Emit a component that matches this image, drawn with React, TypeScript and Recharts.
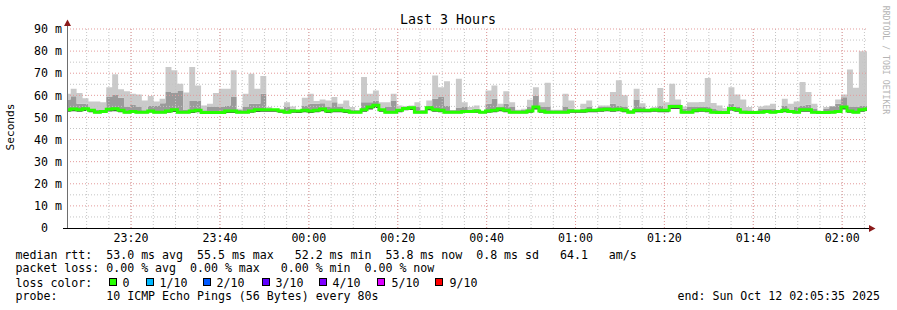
import React from "react";
import { ComposedChart, Area, Line, XAxis, YAxis, ReferenceLine } from "recharts";

/* ------------------------------------------------------------------ */
/*  Data (one value per 80 s step, graph window 23:05:35 – 02:05:35)   */
/* ------------------------------------------------------------------ */

const STEP_SECONDS = 80;
const FIRST_STEP_START = -30; // seconds relative to 23:05:35
const GRAPH_SECONDS = 10800;

// highest ping of each step (ms)
const maxRtt = [
  60.7, 63.0, 61.1, 58.7, 57.2, 57.2, 56.9, 63.7, 69.5, 62.7,
  61.8, 60.7, 60.4, 57.7, 59.7, 57.2, 58.4, 72.8, 71.3, 65.2,
  61.3, 72.8, 64.5, 55.4, 56.2, 61.0, 63.0, 63.0, 71.3, 53.9,
  60.7, 69.8, 63.0, 68.7, 54.7, 53.2, 53.9, 56.9, 54.9, 53.5,
  58.9, 60.7, 57.4, 58.1, 57.7, 59.2, 56.2, 57.7, 54.7, 53.2,
  68.3, 60.7, 62.2, 56.9, 56.9, 60.7, 55.4, 54.9, 55.4, 56.9,
  53.2, 57.7, 69.0, 63.7, 66.4, 53.2, 67.5, 56.9, 54.7, 55.4,
  52.9, 62.2, 64.5, 56.2, 61.8, 56.9, 53.5, 53.9, 58.0, 63.7,
  56.9, 65.7, 53.5, 53.5, 60.7, 57.7, 52.9, 56.2, 57.7, 52.9,
  55.4, 55.4, 61.5, 66.8, 60.0, 53.2, 63.0, 56.4, 53.5, 54.7,
  63.3, 56.9, 65.2, 58.1, 54.9, 56.9, 56.9, 57.0, 67.8, 56.5,
  55.4, 54.2, 63.7, 60.4, 58.1, 54.7, 52.4, 55.0, 55.4, 56.2,
  53.2, 58.4, 56.2, 57.2, 66.0, 61.5, 56.2, 52.4, 54.7, 55.0,
  58.1, 60.4, 71.7, 63.4, 79.9, 79.9,
];

// top of the mid-grey smoke (ms)
const upperRtt = [
  58.1, 59.6, 56.2, 56.2, 53.4, 53.4, 53.4, 59.2, 60.4, 58.9,
  54.7, 55.9, 54.7, 53.2, 55.4, 55.4, 56.4, 61.5, 61.1, 62.2,
  53.4, 57.7, 57.7, 53.2, 54.7, 54.7, 54.7, 55.4, 59.2, 53.5,
  54.7, 56.2, 56.2, 60.7, 53.5, 53.2, 53.5, 54.7, 53.9, 53.2,
  55.4, 56.2, 56.2, 56.4, 54.7, 56.9, 54.7, 53.9, 53.5, 53.2,
  56.9, 56.9, 57.5, 53.9, 54.7, 57.7, 53.5, 55.0, 55.0, 54.7,
  53.2, 55.4, 58.5, 59.2, 55.4, 53.2, 54.5, 54.7, 53.5, 53.9,
  52.9, 56.2, 58.5, 54.7, 56.2, 54.7, 53.2, 53.5, 54.7, 59.8,
  54.7, 54.7, 53.2, 53.2, 54.7, 53.9, 52.9, 53.9, 54.7, 52.9,
  54.7, 54.7, 56.2, 55.4, 54.7, 53.2, 58.1, 54.7, 53.2, 53.9,
  55.4, 53.9, 56.0, 56.0, 53.9, 54.7, 54.7, 55.0, 54.7, 54.0,
  53.2, 52.7, 56.2, 54.7, 53.2, 53.2, 52.4, 54.0, 54.0, 54.0,
  52.7, 55.4, 53.2, 54.7, 55.4, 55.7, 54.0, 52.4, 54.0, 55.1,
  56.2, 59.1, 54.7, 54.7, 55.4, 55.4,
];

// median rtt (ms)
const medianRtt = [
  53.5, 53.8, 53.5, 53.9, 53.2, 52.4, 52.7, 53.7, 53.9, 53.2,
  52.4, 52.7, 52.4, 52.4, 52.9, 52.4, 52.4, 52.9, 53.5, 52.4,
  52.4, 52.9, 53.2, 52.2, 52.2, 52.2, 52.2, 52.9, 52.9, 52.4,
  52.4, 52.9, 53.5, 53.5, 53.5, 53.5, 52.9, 52.4, 52.9, 52.9,
  53.2, 52.9, 53.2, 53.8, 52.9, 53.3, 53.3, 52.9, 52.4, 52.4,
  53.5, 54.7, 55.5, 53.5, 52.4, 52.4, 53.2, 54.1, 54.4, 52.4,
  52.4, 54.4, 53.5, 53.2, 52.4, 52.4, 52.4, 52.7, 52.7, 52.9,
  52.4, 52.9, 53.2, 53.8, 53.2, 52.4, 52.4, 52.4, 52.9, 54.7,
  52.9, 52.4, 52.4, 52.4, 52.4, 52.9, 52.9, 52.9, 53.2, 53.2,
  53.5, 53.7, 53.5, 53.7, 53.2, 52.4, 53.2, 53.2, 53.2, 53.5,
  53.2, 53.2, 54.9, 54.9, 52.4, 52.4, 53.2, 53.5, 53.2, 52.4,
  52.2, 52.2, 54.0, 53.5, 52.4, 52.2, 52.2, 52.4, 52.7, 52.4,
  52.7, 53.2, 52.7, 52.4, 53.5, 53.5, 52.4, 52.2, 52.2, 52.4,
  52.7, 54.7, 52.9, 52.4, 53.5, 53.8,
];

// lowest ping of each step (ms)
const minRtt = [
  52.6, 52.8, 52.6, 52.9, 52.3, 51.9, 52.0, 52.7, 52.8, 52.3,
  51.9, 52.1, 51.9, 51.9, 52.2, 51.9, 51.9, 52.1, 52.5, 51.9,
  51.9, 52.0, 52.3, 51.8, 51.8, 51.8, 51.8, 52.0, 52.0, 51.9,
  51.9, 52.1, 52.5, 52.6, 52.6, 52.6, 52.1, 51.9, 52.1, 52.0,
  52.3, 52.0, 52.3, 52.8, 52.0, 52.4, 52.4, 52.0, 51.9, 51.9,
  52.6, 53.6, 54.3, 52.6, 51.9, 51.9, 52.3, 53.2, 53.4, 51.9,
  51.9, 53.3, 52.6, 52.3, 51.9, 51.9, 51.9, 52.1, 52.1, 52.1,
  51.9, 52.1, 52.3, 52.8, 52.3, 51.9, 51.9, 51.9, 52.1, 53.6,
  52.1, 51.9, 51.9, 51.9, 51.9, 52.1, 52.1, 52.1, 52.3, 52.3,
  52.6, 52.8, 52.6, 52.8, 52.3, 51.9, 52.3, 52.3, 52.3, 52.6,
  52.3, 52.3, 53.8, 53.8, 51.9, 51.9, 52.3, 52.6, 52.3, 51.9,
  51.8, 51.8, 53.0, 52.6, 51.9, 51.8, 51.8, 51.9, 52.1, 51.9,
  52.1, 52.3, 52.1, 51.9, 52.6, 52.6, 51.9, 51.8, 51.8, 51.9,
  52.1, 53.6, 52.1, 51.9, 52.6, 52.9,
];

// time axis labels, placed every 20 min starting 14:25 after graph start
const timeLabels = ["23:20", "23:40", "00:00", "00:20", "00:40", "01:00", "01:20", "01:40", "02:00"];
const timeTicks = [865, 2065, 3265, 4465, 5665, 6865, 8065, 9265, 10465];
const valueTicks = [0, 10, 20, 30, 40, 50, 60, 70, 80, 90];

const lossLabels = ["0", "1/10", "2/10", "3/10", "4/10", "5/10", "9/10"];
const lossColors = ["#26ff00", "#00b8ff", "#0059ff", "#5e00ff", "#7e00ff", "#dd00ff", "#ff0000"];

/* ------------------------------------------------------------------ */
/*  Chart table                                                        */
/* ------------------------------------------------------------------ */

const rows = medianRtt.map((median, i) => {
  const lo = Math.min(minRtt[i], median);
  const up = Math.max(upperRtt[i], median);
  return {
    t: FIRST_STEP_START + i * STEP_SECONDS,
    base: lo,
    dark: median - lo,
    mid: up - median,
    light: Math.max(0, maxRtt[i] - up),
    median,
  };
});
const chartData = [...rows, { ...rows[rows.length - 1], t: rows[rows.length - 1].t + STEP_SECONDS }];

const minorTimeGrid: number[] = [];
for (let s = 265; s < GRAPH_SECONDS; s += 300) minorTimeGrid.push(s);
const minorValueGrid = [5, 15, 25, 35, 45, 55, 65, 75, 85];

const FONT = "'DejaVu Sans Mono', monospace";
const MINOR = "#c4c4c4";
const MAJOR = "#e49a9a";

function YTick({ x, y, payload }: any) {
  const zero = payload.value === 0;
  return (
    <text x={x} y={y} dx={zero ? -14 : 0} dy="0.36em" textAnchor="end" fontFamily={FONT} fontSize={11.6} fill="#000">
      {zero ? "0" : `${payload.value} m`}
    </text>
  );
}

const LEGEND_ROW: React.CSSProperties = {
  position: "absolute",
  left: 15.5,
  whiteSpace: "pre",
  fontFamily: FONT,
  fontSize: 11.6,
  lineHeight: "14px",
  color: "#000",
};

const SWATCH_X = [109, 146, 203, 262, 319, 377, 435];
const SWATCH_TEXT_X = [122.5, 159.5, 216.5, 275.5, 332.5, 391.5, 449.5];

export default function App() {
  return (
    <div style={{ position: "absolute", left: 0, top: 0, width: 897, height: 310, background: "#fff", overflow: "hidden" }}>
      <ComposedChart width={897} height={310} data={chartData} margin={{ top: 28, right: 30, bottom: 62, left: 0 }}>
        <XAxis
          type="number"
          dataKey="t"
          domain={[0, GRAPH_SECONDS]}
          allowDataOverflow
          ticks={timeTicks}
          interval={0}
          tickFormatter={(v: number) => timeLabels[timeTicks.indexOf(v)]}
          height={20}
          axisLine={false}
          tickLine={false}
          tickSize={4}
          tickMargin={2}
          tick={{ fontFamily: FONT, fontSize: 11.6, fill: "#000" }}
        />
        <YAxis
          type="number"
          domain={[0, 90.45]}
          allowDataOverflow
          ticks={valueTicks}
          interval={0}
          width={67}
          axisLine={false}
          tickLine={false}
          tickSize={3}
          tickMargin={2}
          tick={<YTick />}
        />
        <Area type="stepAfter" dataKey="base" stackId="smoke" stroke="none" fill="none" isAnimationActive={false} />
        <Area type="stepAfter" dataKey="dark" stackId="smoke" stroke="none" fill="#4a4a4a" fillOpacity={1} isAnimationActive={false} />
        <Area type="stepAfter" dataKey="mid" stackId="smoke" stroke="none" fill="#9a9a9a" fillOpacity={1} isAnimationActive={false} />
        <Area type="stepAfter" dataKey="light" stackId="smoke" stroke="none" fill="#cacaca" fillOpacity={1} isAnimationActive={false} />
        {minorTimeGrid.map((s) => (
          <ReferenceLine key={`mx${s}`} x={s} stroke={MINOR} strokeDasharray="1 2" />
        ))}
        {minorValueGrid.map((v) => (
          <ReferenceLine key={`my${v}`} y={v} stroke={MINOR} strokeDasharray="1 2" />
        ))}
        {timeTicks.map((s) => (
          <ReferenceLine key={`Mx${s}`} x={s} stroke={MAJOR} strokeDasharray="1 2" />
        ))}
        {valueTicks.slice(1).map((v) => (
          <ReferenceLine key={`My${v}`} y={v} stroke={MAJOR} strokeDasharray="1 2" />
        ))}
        <Line
          type="stepAfter"
          dataKey="median"
          stroke="#26ff00"
          strokeWidth={3}
          dot={false}
          activeDot={false}
          isAnimationActive={false}
        />
      </ComposedChart>

      {/* axes, arrows, titles */}
      <svg width={897} height={310} style={{ position: "absolute", left: 0, top: 0 }}>
        <line x1={67.5} y1={229} x2={67.5} y2={24} stroke="#6e6e6e" strokeWidth={1} />
        <line x1={63} y1={228.5} x2={870} y2={228.5} stroke="#000" strokeWidth={1} />
        <polygon points="64,26 71,26 67.5,19.5" fill="#8b1a1a" />
        <polygon points="869,225 869,232 875.5,228.5" fill="#8b1a1a" />
        <text x={448} y={19.5} dy="0.36em" textAnchor="middle" fontFamily={FONT} fontSize={13.3} fill="#000">
          Last 3 Hours
        </text>
        <text
          x={10}
          y={127}
          dy="0.36em"
          textAnchor="middle"
          transform="rotate(-90 10 127)"
          fontFamily={FONT}
          fontSize={11.2}
          fill="#000"
        >
          Seconds
        </text>
        <text
          x={886}
          y={60}
          dy="0.36em"
          textAnchor="middle"
          transform="rotate(90 886 60)"
          fontFamily={FONT}
          fontSize={8.2}
          fill="#b4b4b4"
        >
          RRDTOOL / TOBI OETIKER
        </text>
      </svg>

      {/* legend */}
      <div style={{ ...LEGEND_ROW, top: 248 }}>
        {"median rtt:  53.0 ms avg  55.5 ms max   52.2 ms min  53.8 ms now  0.8 ms sd   64.1   am/s"}
      </div>
      <div style={{ ...LEGEND_ROW, top: 261.4 }}>
        {"packet loss: 0.00 % avg  0.00 % max   0.00 % min  0.00 % now"}
      </div>
      <div style={{ ...LEGEND_ROW, top: 275.9 }}>{"loss color:"}</div>
      {lossLabels.map((label, i) => (
        <React.Fragment key={label}>
          <div
            style={{
              position: "absolute",
              left: SWATCH_X[i],
              top: 278,
              width: 8,
              height: 8,
              boxSizing: "border-box",
              border: "1px solid #000",
              background: lossColors[i],
            }}
          />
          <div style={{ ...LEGEND_ROW, left: SWATCH_TEXT_X[i], top: 275.9 }}>{label}</div>
        </React.Fragment>
      ))}
      <div style={{ ...LEGEND_ROW, top: 289.4 }}>{"probe:       10 ICMP Echo Pings (56 Bytes) every 80s"}</div>
      <div style={{ ...LEGEND_ROW, left: 677.5, top: 289.4 }}>{"end: Sun Oct 12 02:05:35 2025"}</div>
    </div>
  );
}
